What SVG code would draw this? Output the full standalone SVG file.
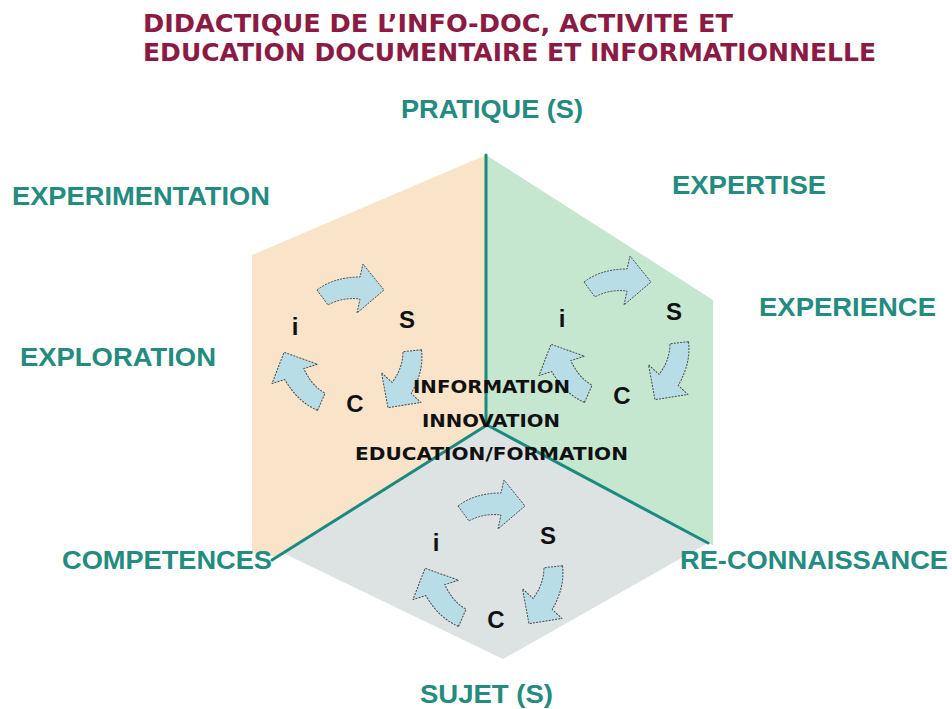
<svg xmlns="http://www.w3.org/2000/svg" xmlns:xlink="http://www.w3.org/1999/xlink" width="952" height="709" viewBox="0 0 952 709">
<style>
.title{font-family:"DejaVu Sans","Liberation Sans",sans-serif;font-weight:bold;font-size:24px;fill:#8b1a44}
.lbl{font-family:"Liberation Sans",Arial,sans-serif;font-weight:bold;font-size:26px;fill:#238b80}
.ctr{font-family:"DejaVu Sans","Liberation Sans",sans-serif;font-weight:bold;font-size:17px;fill:#111}
.let{font-family:"Liberation Sans",Arial,sans-serif;font-weight:bold;font-size:24px;fill:#111;text-anchor:middle}
.arr{fill:#b9dde6;stroke:#4a4a4a;stroke-width:1;stroke-dasharray:2 1.2;stroke-linejoin:round}
.sep{stroke:#1b8a7f;stroke-width:3;fill:none;stroke-linecap:round}
</style>
<defs>
<path id="arrow" class="arr" d="M -35,-60 Q -18,-73 8,-73 L 11,-86 L 32,-60 L 5,-37 L 8,-51 Q -10,-53 -24,-45 Z"/>
<g id="cycle">
<use xlink:href="#arrow"/>
<use xlink:href="#arrow" transform="rotate(120)"/>
<use xlink:href="#arrow" transform="rotate(240)"/>
<text class="let" x="-57" y="-15">i</text>
<text class="let" x="55" y="-22">S</text>
<text class="let" x="3" y="62">C</text>
</g>
</defs>
<rect width="952" height="709" fill="#ffffff"/>
<g id="title">
<text class="title" x="143" y="32" textLength="590" lengthAdjust="spacingAndGlyphs">DIDACTIQUE DE L’INFO-DOC, ACTIVITE ET</text>
<text class="title" x="143" y="61" textLength="733" lengthAdjust="spacingAndGlyphs">EDUCATION DOCUMENTAIRE ET INFORMATIONNELLE</text>
</g>
<g id="face-orange"><polygon points="486,155 252,255 252,553 275,557 487,425" fill="#f9e4c9"/></g>
<g id="face-green"><polygon points="486,155 713,300 713,545 708,543 487,425" fill="#c5e6cf"/></g>
<g id="face-grey"><polygon points="487,425 708,543 503,659 283,553" fill="#dde2e3"/></g>
<g id="connectors">
<line class="sep" x1="486" y1="155" x2="486" y2="425"/>
<line class="sep" x1="487" y1="425" x2="272" y2="560"/>
<line class="sep" x1="487" y1="425" x2="708" y2="543"/>
</g>
<g id="cycle-orange"><use xlink:href="#cycle" transform="translate(352,350)"/></g>
<g id="cycle-green"><use xlink:href="#cycle" transform="translate(619,342)"/></g>
<g id="cycle-grey"><use xlink:href="#cycle" transform="translate(493,566)"/></g>
<g id="center-text">
<text class="ctr" x="413" y="393" textLength="157" lengthAdjust="spacingAndGlyphs">INFORMATION</text>
<text class="ctr" x="422" y="427" textLength="138" lengthAdjust="spacingAndGlyphs">INNOVATION</text>
<text class="ctr" x="355" y="460" textLength="273" lengthAdjust="spacingAndGlyphs">EDUCATION/FORMATION</text>
</g>
<g id="labels">
<text class="lbl" x="401" y="118" textLength="182" lengthAdjust="spacingAndGlyphs">PRATIQUE (S)</text>
<text class="lbl" x="672" y="194" textLength="154" lengthAdjust="spacingAndGlyphs">EXPERTISE</text>
<text class="lbl" x="12" y="205" textLength="258" lengthAdjust="spacingAndGlyphs">EXPERIMENTATION</text>
<text class="lbl" x="759" y="316" textLength="177" lengthAdjust="spacingAndGlyphs">EXPERIENCE</text>
<text class="lbl" x="20" y="366" textLength="196" lengthAdjust="spacingAndGlyphs">EXPLORATION</text>
<text class="lbl" x="62" y="569" textLength="210" lengthAdjust="spacingAndGlyphs">COMPETENCES</text>
<text class="lbl" x="680" y="569" textLength="268" lengthAdjust="spacingAndGlyphs">RE-CONNAISSANCE</text>
<text class="lbl" x="420" y="703" textLength="133" lengthAdjust="spacingAndGlyphs">SUJET (S)</text>
</g>
</svg>
